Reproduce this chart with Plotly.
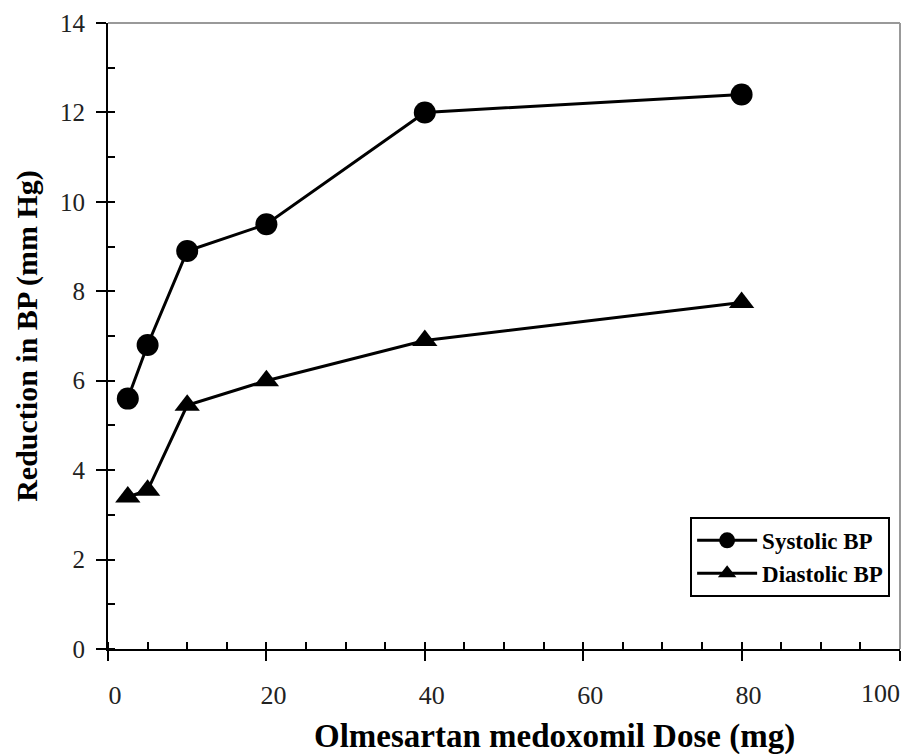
import plotly.graph_objects as go

# doses (mg) and mean BP reductions (mmHg)
dose = [2.5, 5, 10, 20, 40, 80]
systolic = [5.6, 6.8, 8.9, 9.5, 12.0, 12.4]
diastolic = [3.4, 3.55, 5.45, 6.0, 6.9, 7.75]

x_ticks = [0, 20, 40, 60, 80, 100]
x_labels = ["0", "20", "40", "60", "80", ""]  # "100" is placed by hand so it isn't clipped
y_ticks = [0, 2, 4, 6, 8, 10, 12, 14]

serif = "Liberation Serif"

fig = go.Figure()
fig.add_trace(go.Scatter(
    x=dose, y=systolic, name="Systolic BP", mode="lines+markers",
    line=dict(color="black", width=3),
    marker=dict(symbol="circle", size=22, color="black"),
))
fig.add_trace(go.Scatter(
    x=dose, y=diastolic, name="Diastolic BP", mode="lines+markers",
    line=dict(color="black", width=3),
    marker=dict(symbol="triangle-up", size=22, color="black"),
))

fig.update_xaxes(
    range=[0, 100], tickvals=x_ticks, ticktext=x_labels,
    showgrid=False, zeroline=False,
    showline=True, linecolor="black", linewidth=2, automargin=False,
    ticks="outside", ticklen=10, tickwidth=2, tickcolor="black",
    ticklabelstandoff=12, ticklabelshift=7,
    minor=dict(dtick=5, ticks="inside", ticklen=7, tickwidth=1.5, tickcolor="black"),
    tickfont=dict(family=serif, size=26, color="#222"),
)
fig.update_yaxes(
    range=[0, 14], tickvals=y_ticks, showgrid=False, zeroline=False,
    showline=True, linecolor="black", linewidth=2, automargin=False,
    ticks="outside", ticklen=10, tickwidth=2, tickcolor="black",
    ticklabelstandoff=6, ticklabeloverflow="allow",
    minor=dict(dtick=1, ticks="inside", ticklen=7, tickwidth=1.5, tickcolor="black"),
    tickfont=dict(family=serif, size=25, color="#222"),
    title=dict(text="<b>Reduction in BP (mm Hg)</b>",
               font=dict(family=serif, size=30, color="black"), standoff=14),
)

fig.add_annotation(text="100", x=100, xref="x", y=0, yref="paper",
                   xanchor="right", yanchor="top", yshift=-28, xshift=2,
                   showarrow=False, font=dict(family=serif, size=26, color="#222"))
fig.add_annotation(text="<b>Olmesartan medoxomil Dose (mg)</b>",
                   x=0.564, xref="paper", y=0, yref="paper",
                   xanchor="center", yanchor="middle", yshift=-87,
                   showarrow=False, font=dict(family=serif, size=33, color="black"))

# thin grey frame on top and right
fig.add_shape(type="line", xref="paper", yref="paper", x0=0, x1=1, y0=1, y1=1,
              line=dict(color="#999", width=2))
fig.add_shape(type="line", xref="paper", yref="paper", x0=1, x1=1, y0=0, y1=1,
              line=dict(color="#999", width=2))

fig.update_layout(
    width=908, height=746,
    margin=dict(l=100, r=16, t=15, b=105),
    plot_bgcolor="white", paper_bgcolor="white",
    legend=dict(
        x=0.735, y=0.211, xanchor="left", yanchor="top",
        bordercolor="black", borderwidth=2, bgcolor="white",
        font=dict(family=serif, size=23, color="black", weight="bold"),
        itemwidth=60, tracegroupgap=0,
    ),
)

fig.write_html("out.html")
